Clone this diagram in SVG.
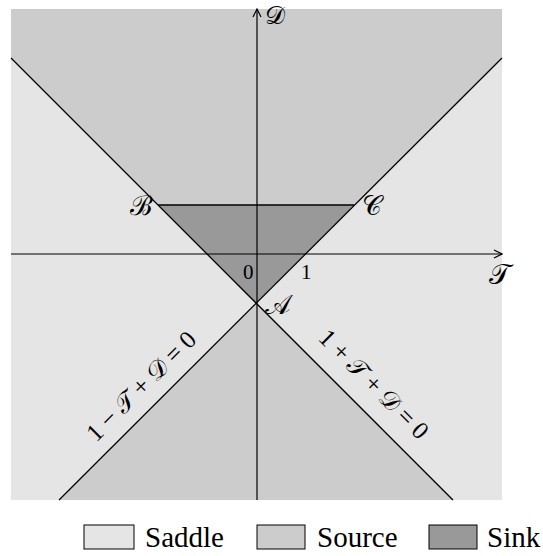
<svg xmlns="http://www.w3.org/2000/svg" width="543" height="556" viewBox="0 0 543 556">
<defs>
<style>
.t{font-family:"Liberation Serif","DejaVu Serif",serif;fill:#000}
.ax{stroke:#000;stroke-width:1.2;fill:none}
.ln{stroke:#000;stroke-width:1.3;fill:none}
.box{stroke:#000;stroke-width:1}
.saddle{fill:#e5e5e5}
.source{fill:#cccccc}
.sink{fill:#999999}
</style>
<marker id="arr" viewBox="0 0 10 10" refX="9" refY="5" markerWidth="10" markerHeight="10" markerUnits="userSpaceOnUse" orient="auto">
<path d="M1,1 L9,5 L1,9" fill="none" stroke="#000" stroke-width="1.2"/>
</marker>
</defs>
<g id="regions">
<rect id="saddle-region" class="saddle" x="11" y="9" width="491" height="491"/>
<polygon id="source-upper" class="source" points="11,9 502,9 502,58 354,205 158,205 11,58"/>
<polygon id="sink-region" class="sink" points="158,205 354,205 256,303"/>
<polygon id="source-lower" class="source" points="256,303 453,500 59,500"/>
</g>
<g id="connectors">
<line class="ln" x1="11" y1="58" x2="453" y2="500"/>
<line class="ln" x1="502" y1="58" x2="59" y2="500"/>
<line class="ln" x1="158" y1="205" x2="354" y2="205"/>
<line class="ax" x1="11" y1="254" x2="502" y2="254" marker-end="url(#arr)"/>
<line class="ax" x1="257" y1="500" x2="257" y2="9" marker-end="url(#arr)"/>
</g>
<g id="labels">
<text class="t" x="265" y="24" font-size="25">𝒟</text>
<text class="t" x="489" y="284" font-size="28">𝒯</text>
<text class="t" x="130" y="215" font-size="27">ℬ</text>
<text class="t" x="362" y="215" font-size="27">𝒞</text>
<text class="t" x="265" y="314" font-size="27">𝒜</text>
<text class="t" x="243" y="279" font-size="21">0</text>
<text class="t" x="301" y="279" font-size="21">1</text>
<text class="t" font-size="25" text-anchor="middle" transform="translate(147,392) rotate(-45)">1 − 𝒯 + 𝒟 = 0</text>
<text class="t" font-size="25" text-anchor="middle" transform="translate(368,390) rotate(45)">1 + 𝒯 + 𝒟 = 0</text>
</g>
<g id="legend">
<g id="legend-saddle">
<rect class="box saddle" x="84" y="525" width="50" height="24"/>
<text class="t" x="145" y="547" font-size="29">Saddle</text>
</g>
<g id="legend-source">
<rect class="box source" x="257" y="525" width="48" height="24"/>
<text class="t" x="317" y="547" font-size="29">Source</text>
</g>
<g id="legend-sink">
<rect class="box sink" x="429" y="525" width="48" height="24"/>
<text class="t" x="487" y="547" font-size="29">Sink</text>
</g>
</g>
</svg>
